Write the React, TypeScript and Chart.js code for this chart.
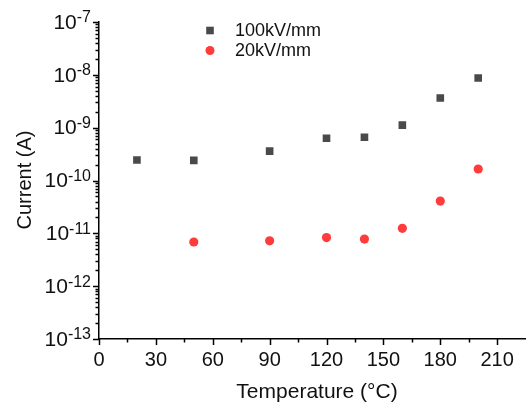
import React, { useEffect, useRef } from "react";
import { Chart, registerables } from "chart.js";

Chart.register(...registerables);

const temps100 = [20, 50, 90, 120, 140, 160, 180, 200];
const current100 = [2.44e-10, 2.4e-10, 3.6e-10, 6.3e-10, 6.6e-10, 1.12e-9, 3.65e-9, 8.7e-9];
const temps20 = [50, 90, 120, 140, 160, 180, 200];
const current20 = [6.85e-12, 7.2e-12, 8.3e-12, 7.8e-12, 1.245e-11, 4.08e-11, 1.65e-10];
const seriesLabels = ["100kV/mm", "20kV/mm"];
const xTicks = [0, 30, 60, 90, 120, 150, 180, 210];
const xMinorTicks = [15, 45, 75, 105, 135, 165, 195];
const yExponents = [-13, -12, -11, -10, -9, -8, -7];

const FONT = '"Liberation Sans", Arial, sans-serif';
const DARK = "#4a4a4a";
const RED = "#ff3b3b";

const drawPlugin = {
  id: "originStyle",
  afterDraw(chart: any) {
    const ctx = chart.ctx;
    const xs = chart.scales.x;
    const ys = chart.scales.y;
    const area = chart.chartArea;
    ctx.save();
    ctx.strokeStyle = "#000";
    ctx.lineWidth = 1.5;
    // x ticks
    ctx.beginPath();
    xTicks.forEach((v) => {
      const px = Math.round(xs.getPixelForValue(v)) + 0.5;
      ctx.moveTo(px, area.bottom);
      ctx.lineTo(px, area.bottom + 6);
    });
    xMinorTicks.forEach((v) => {
      const px = Math.round(xs.getPixelForValue(v)) + 0.5;
      ctx.moveTo(px, area.bottom);
      ctx.lineTo(px, area.bottom + 3.5);
    });
    // y ticks
    yExponents.forEach((e) => {
      const py = Math.round(ys.getPixelForValue(Math.pow(10, e))) + 0.5;
      ctx.moveTo(area.left, py);
      ctx.lineTo(area.left - 6, py);
      if (e < -7) {
        for (let m = 2; m <= 9; m++) {
          const pm = Math.round(ys.getPixelForValue(m * Math.pow(10, e))) + 0.5;
          ctx.moveTo(area.left, pm);
          ctx.lineTo(area.left - 3.5, pm);
        }
      }
    });
    ctx.stroke();

    // x tick labels
    ctx.fillStyle = "#111";
    ctx.font = `20px ${FONT}`;
    ctx.textAlign = "center";
    ctx.textBaseline = "middle";
    xTicks.forEach((v) => {
      ctx.fillText(String(v), xs.getPixelForValue(v), area.bottom + 21);
    });

    // y tick labels 10^e
    yExponents.forEach((e) => {
      const py = ys.getPixelForValue(Math.pow(10, e));
      const sup = String(e);
      ctx.font = `16px ${FONT}`;
      const wSup = ctx.measureText(sup).width;
      ctx.font = `21px ${FONT}`;
      const wBase = ctx.measureText("10").width;
      const right = area.left - 8;
      ctx.textAlign = "left";
      ctx.textBaseline = "middle";
      ctx.fillText("10", right - wSup - wBase, py + 1);
      ctx.font = `16px ${FONT}`;
      ctx.fillText(sup, right - wSup, py - 4);
    });

    // axis titles
    ctx.font = `21px ${FONT}`;
    ctx.textAlign = "center";
    ctx.textBaseline = "middle";
    ctx.fillText("Temperature (\u00B0C)", 317, 392);
    ctx.save();
    ctx.translate(25, 180);
    ctx.rotate(-Math.PI / 2);
    ctx.font = `20px ${FONT}`;
    ctx.fillText("Current (A)", 0, 0);
    ctx.restore();

    // legend
    const legendItems = chart.data.datasets.map((d: any, i: number) => ({
      label: d.label,
      style: d.pointStyle,
      color: d.backgroundColor,
      y: 30.5 + i * 20,
    }));
    legendItems.forEach((it: any) => {
      ctx.fillStyle = it.color;
      ctx.beginPath();
      if (it.style === "rect") {
        const s = 3.8;
        ctx.rect(210 - s, it.y - s, 2 * s, 2 * s);
      } else {
        ctx.arc(210, it.y, 4.5, 0, Math.PI * 2);
      }
      ctx.fill();
      ctx.fillStyle = "#111";
      ctx.font = `18px ${FONT}`;
      ctx.textAlign = "left";
      ctx.textBaseline = "middle";
      ctx.fillText(it.label, 235, it.y + 0.5);
    });
    ctx.restore();
  },
};

export default function App() {
  const ref = useRef<HTMLCanvasElement | null>(null);
  useEffect(() => {
    if (!ref.current) return;
    const chart = new Chart(ref.current, {
      type: "scatter",
      data: {
        datasets: [
          {
            label: seriesLabels[0],
            data: temps100.map((t, i) => ({ x: t, y: current100[i] })),
            pointStyle: "rect",
            pointRadius: 5.4,
            backgroundColor: DARK,
            borderColor: DARK,
            borderWidth: 0,
          },
          {
            label: seriesLabels[1],
            data: temps20.map((t, i) => ({ x: t, y: current20[i] })),
            pointStyle: "circle",
            pointRadius: 4.6,
            backgroundColor: RED,
            borderColor: RED,
            borderWidth: 0,
          },
        ],
      },
      options: {
        animation: false,
        responsive: true,
        maintainAspectRatio: false,
        layout: { padding: { top: 22, right: 2, left: 0, bottom: 0 } },
        plugins: { legend: { display: false }, tooltip: { enabled: false } },
        scales: {
          x: {
            type: "linear",
            min: 0,
            max: 225,
            grid: { display: false },
            ticks: { display: false },
            border: { display: true, color: "#000", width: 1.5 },
            afterFit: (s: any) => {
              s.height = 67;
            },
          },
          y: {
            type: "logarithmic",
            min: 1e-13,
            max: 1e-7,
            grid: { display: false },
            ticks: { display: false },
            border: { display: true, color: "#000", width: 1.5 },
            afterFit: (s: any) => {
              s.width = 99;
            },
          },
        },
      },
      plugins: [drawPlugin],
    });
    return () => chart.destroy();
  }, []);
  return (
    <div style={{ position: "fixed", left: 0, top: 0, width: 531, height: 406, background: "#fff" }}>
      <canvas ref={ref} />
    </div>
  );
}
